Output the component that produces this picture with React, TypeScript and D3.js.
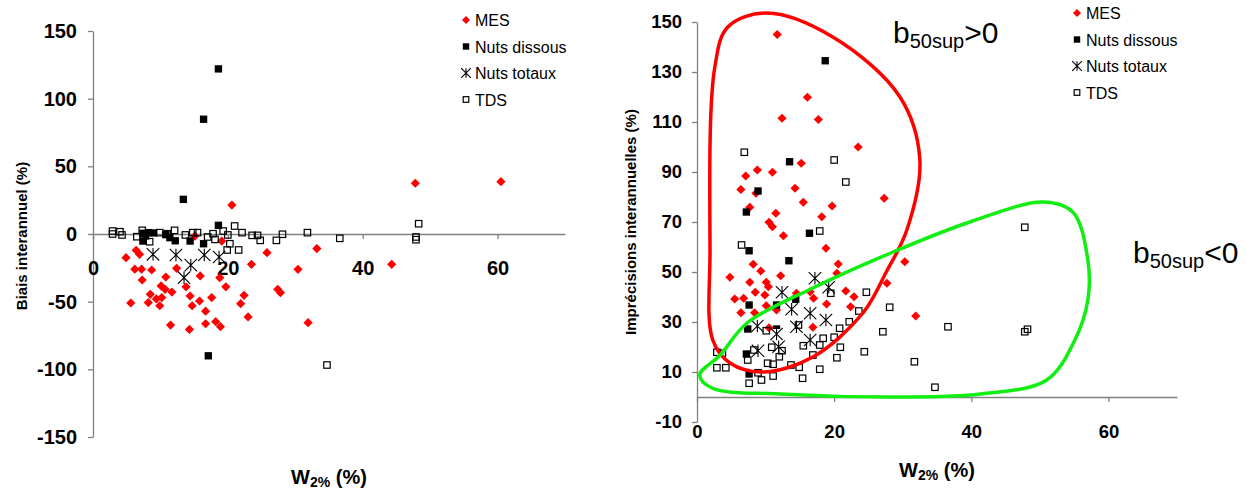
import { useEffect, useRef } from "react";
import * as d3 from "d3";

type Pt = [number, number];

// axis ticks
const wTicks = [0, 20, 40, 60];
const biasTicks = [-150, -100, -50, 0, 50, 100, 150];
const imprecTicks = [-10, 10, 30, 50, 70, 90, 110, 130, 150];
const seriesNames = ["MES", "Nuts dissous", "Nuts totaux", "TDS"];

// left panel : biais interannuel vs W2%
const biasMes: Pt[] = [
  [20.6, 21.4], [4.9, -17.5], [6.4, -12], [6.9, -15], [6.2, -26], [7.2, -26], [8.7, -26.6],
  [7.3, -34], [5.6, -51], [8.2, -50.7], [8.5, -44.6], [9.4, -48], [10.2, -47], [9.9, -53],
  [10.1, -38.4], [10.8, -31.8], [10.7, -40.9], [11.7, -42.9], [11.5, -67.3], [14.3, -70.5],
  [14.4, -45.8], [14.7, -53], [15.8, -49.5], [16.7, -57], [16.7, -66.3], [17.6, -47],
  [18.2, -64.8], [18.9, -68.5], [18.8, -32.3], [19.7, -39], [19.1, -5.2], [21.9, -51.5],
  [22.4, -45.3], [23, -61.3], [23.5, -22.4], [25.8, -13.8], [27.4, -40.9], [27.8, -43.4],
  [30.4, -26.1], [31.9, -65.5], [33.2, -10.8], [12.4, -25.4], [15.9, -31], [13.8, -39],
  [15.1, -1.5], [47.8, 37.5], [60.5, 38.7], [44.3, -22.4],
];
const biasNutsDissous: Pt[] = [
  [18.6, 122], [16.4, 84.8], [13.4, 25.6], [18.6, 6.4], [7.4, 0.5], [8.2, 1], [9, 0.8],
  [7.8, -1.5], [7.4, -5.2], [10.8, -0.5], [11.4, -2.7], [12.2, -5], [14.4, -5.2],
  [16.4, -7.2], [17.1, -90],
];
const biasNutsTotaux: Pt[] = [
  [8.9, -15], [12.3, -15.5], [14.5, -23], [16.5, -15.5], [18.7, -17], [13.5, -32.3],
];
const biasTds: Pt[] = [
  [2.9, 2.2], [2.9, 0], [4, 1.7], [4.3, -0.7], [6.5, -2], [7.3, 2.7], [8.4, -5.7], [9.9, 1],
  [11, 0.2], [12.1, 2.7], [13.7, -0.7], [14.8, 1], [15.5, 1], [17, -2.2], [17.8, 0.2],
  [18.1, -4], [19.3, 2.2], [20, -0.7], [21, 5.9], [20.3, -7.2], [19.9, -11.8], [21.6, -11.8],
  [22.1, 1], [23.6, -1], [24.4, -1], [24.8, -4.7], [27.2, -4.7], [28.1, -0.2], [31.8, 1],
  [36.6, -3.2], [48.3, 7.6], [47.9, -2.2], [47.9, -4.2], [34.7, -96.8],
];

// right panel : imprecisions interannuelles vs W2%
const impMes: Pt[] = [
  [11.7, 145], [16.1, 119.9], [12.4, 111.5], [17.7, 111], [23.5, 100], [15.2, 93.5],
  [8.8, 90.8], [7.1, 88.4], [11, 89.9], [6.4, 83], [8.6, 81.5], [14.3, 83.5], [15.5, 77.9],
  [27.3, 79.5], [19.7, 76.4], [7.7, 75.9], [11.5, 73.5], [18.2, 72.1], [10.5, 69.9],
  [11, 68.1], [12.6, 64.5], [18.8, 59.5], [8.2, 53.1], [9.3, 50.4], [4.8, 47.9], [12.2, 48.5],
  [20.6, 53.2], [20.4, 49.5], [7.7, 45.9], [10.1, 45.9], [10.4, 44.1], [8.5, 41.9],
  [5.5, 39.2], [6.8, 39.5], [9.9, 40.8], [10.1, 36.5], [6.4, 33.7], [8.4, 33.7], [14.5, 41.5],
  [16.5, 42.1], [17, 39.5], [21.7, 42.4], [22.9, 40.1], [22.4, 36.1], [18.9, 37.2],
  [27.7, 45.5], [30.3, 54.1], [31.9, 32.4], [16.9, 27.9], [11.6, 34.8], [10.5, 27.7],
];
const impNutsDissous: Pt[] = [
  [18.7, 134.5], [13.5, 94.1], [8.9, 82.4], [7.2, 74], [16.4, 65.5], [7.6, 58.5], [13.4, 54.5],
  [7.6, 36.8], [11.6, 36.8], [14.4, 39.1], [7.4, 27.2], [11.6, 27.2], [7.2, 17.2], [7.6, 9.2],
];
const impNutsTotaux: Pt[] = [
  [17.2, 47.5], [12.4, 41.9], [19.2, 43.9], [13.8, 35.1], [16.5, 33.5], [18.8, 30.8],
  [14.5, 28.1], [11.6, 25.2], [8.8, 28.4], [16.5, 22.8], [11.9, 20.1], [8.9, 18.5],
];
const impTds: Pt[] = [
  [6.9, 97.9], [20, 94.8], [21.7, 86], [17.9, 66.4], [6.5, 60.8], [24.7, 41.9], [19.5, 41.5],
  [28.1, 35.9], [23.6, 34.4], [22.2, 30.1], [20.8, 27.5], [27.1, 26.1], [20, 23.9],
  [18.4, 23.5], [17.9, 20.8], [20.9, 19.9], [24.4, 18.1], [20.4, 15.7], [16.9, 16.8],
  [15.5, 20.5], [14.8, 28.8], [12.4, 18.5], [10.9, 19.9], [12, 16.1], [10.1, 26.5],
  [7.4, 14.8], [8.3, 18.8], [10.3, 13.5], [11.1, 13.1], [13.7, 12.8], [14.9, 11.9],
  [17.9, 11.1], [15.4, 7.5], [11.1, 8.4], [9.4, 6.8], [8.9, 9.7], [7.6, 5.5], [2.9, 17.9],
  [3.7, 17.5], [2.9, 11.7], [4.2, 11.7], [31.7, 14.1], [34.7, 3.9], [47.8, 67.9],
  [36.6, 28.1], [47.8, 26.1], [48.2, 27.1],
];

// hand drawn outlines (data units of the right panel)
const loopPositive: Pt[] = [
  [10.2, 153.6], [19.8, 144], [29.6, 120], [32.5, 94.8], [30.6, 66.8], [27.6, 50],
  [24.2, 33.6], [16.9, 16], [9.6, 10], [4.8, 13.6], [2.3, 22.8], [1.9, 58.8], [2.6, 132],
  [4.5, 148],
];
const loopNegative: Pt[] = [
  [50.5, 78], [54.8, 74], [57, 54.8], [57, 38.8], [55.1, 22.8], [51, 6.8], [41.3, 1.2],
  [29.6, 0], [12.1, 1.2], [2.2, 3.6], [0.4, 8.8], [3.4, 16.8], [7.3, 29.6], [16.9, 43.6],
  [28.6, 58], [39.8, 70],
];

const FONT = "'Liberation Sans', Arial, sans-serif";
const AXIS_COL = "#808080";

function drawMarker(g: any, kind: string, s: number) {
  if (kind === "MES") {
    g.append("path").attr("d", `M0,${-s}L${s},0L0,${s}L${-s},0Z`).attr("fill", "#ff0000");
  } else if (kind === "Nuts dissous") {
    const h = s * 0.8;
    g.append("rect").attr("x", -h).attr("y", -h).attr("width", 2 * h).attr("height", 2 * h)
      .attr("fill", "#000");
  } else if (kind === "Nuts totaux") {
    const h = s * 1.35;
    g.append("path")
      .attr("d", `M0,${-h}V${h}M${-h},${-h}L${h},${h}M${-h},${h}L${h},${-h}`)
      .attr("stroke", "#000").attr("stroke-width", 1.1).attr("fill", "none");
  } else {
    const h = s * 0.7;
    g.append("rect").attr("x", -h).attr("y", -h).attr("width", 2 * h).attr("height", 2 * h)
      .attr("fill", "none").attr("stroke", "#000").attr("stroke-width", 1.2);
  }
}

function panel(svg: any, o: any) {
  const x = d3.scaleLinear().domain([0, 70]).range(o.xRange);
  const y = d3.scaleLinear().domain(o.yDomain).range(o.yRange);
  const plain = (d: any) => String(d); // hyphen minus like the original

  // y axis
  const ya = svg.append("g").attr("transform", `translate(${o.xRange[0]},0)`)
    .call(d3.axisLeft(y).tickValues(o.yTicks).tickFormat(plain).tickSize(5).tickSizeOuter(0)
      .tickPadding(o.yPad));
  // x axis along y = 0
  const xa = svg.append("g").attr("transform", `translate(0,${y(0)})`)
    .call(d3.axisBottom(x).tickValues(wTicks).tickFormat(plain).tickSize(5).tickSizeOuter(0)
      .tickPadding(o.xPad));
  [ya, xa].forEach((a) => {
    a.select(".domain").attr("stroke", AXIS_COL).attr("stroke-width", 1.3);
    a.selectAll(".tick line").attr("stroke", AXIS_COL).attr("stroke-width", 1.3);
    a.selectAll(".tick text").attr("fill", "#000").attr("font-family", FONT)
      .attr("font-weight", "bold").attr("font-size", o.tickFont);
  });

  // series
  const sets = [o.mes, o.dissous, o.totaux, o.tds];
  sets.forEach((pts: Pt[], i: number) => {
    const kind = seriesNames[i];
    const layer = svg.append("g");
    pts.forEach((p) => {
      const g = layer.append("g").attr("transform", `translate(${x(p[0])},${y(p[1])})`);
      if (kind === "Nuts totaux") {
        g.append("rect").attr("x", -5).attr("y", -5).attr("width", 10).attr("height", 10)
          .attr("fill", "#fff");
      }
      drawMarker(g, kind, 4.6);
    });
  });

  // axis titles
  svg.append("text")
    .attr("transform", `translate(${o.yTitleX},${o.yTitleY}) rotate(-90)`)
    .attr("text-anchor", "middle").attr("font-family", FONT).attr("font-weight", "bold")
    .attr("font-size", 15).text(o.yTitle);
  const xt = svg.append("text").attr("x", (o.xRange[0] + o.xRange[1]) / 2).attr("y", o.xTitleY)
    .attr("text-anchor", "middle").attr("font-family", FONT).attr("font-weight", "bold")
    .attr("font-size", 20);
  xt.append("tspan").text("W");
  xt.append("tspan").attr("font-size", 14).attr("dy", 3).text("2%");
  xt.append("tspan").attr("dy", -3).text(" (%)");

  // legend
  seriesNames.forEach((name, i) => {
    const cy = o.legendY + i * 26.5;
    const g = svg.append("g").attr("transform", `translate(${o.legendX},${cy})`);
    drawMarker(g, name, name === "Nuts totaux" ? 3.6 : 4);
    svg.append("text").attr("x", o.legendX + 9).attr("y", cy + 6)
      .attr("font-family", FONT).attr("font-size", 16).text(name);
  });

  return { x, y };
}

function annotation(svg: any, px: number, py: number, sign: string) {
  const t = svg.append("text").attr("x", px).attr("y", py).attr("font-family", FONT)
    .attr("font-size", 30);
  t.append("tspan").text("b");
  t.append("tspan").attr("font-size", 20).attr("dy", 5).text("50sup");
  t.append("tspan").attr("dy", -5).text(sign + "0");
}

export default function App() {
  const ref = useRef<SVGSVGElement | null>(null);

  useEffect(() => {
    document.body.style.margin = "0";
    const svg = d3.select(ref.current);
    svg.selectAll("*").remove();
    svg.append("rect").attr("width", 1260).attr("height", 490).attr("fill", "#fff");

    panel(svg, {
      xRange: [93, 565], yDomain: [-150, 150], yRange: [437, 31], yTicks: biasTicks,
      yPad: 11, xPad: 22, tickFont: 20,
      mes: biasMes, dissous: biasNutsDissous, totaux: biasNutsTotaux, tds: biasTds,
      yTitle: "Biais interannuel (%)", yTitleX: 27, yTitleY: 236, xTitleY: 484,
      legendX: 466, legendY: 20,
    });

    const r = panel(svg, {
      xRange: [697, 1177], yDomain: [-10, 150], yRange: [422, 22], yTicks: imprecTicks,
      yPad: 10, xPad: 23, tickFont: 18.5,
      mes: impMes, dissous: impNutsDissous, totaux: impNutsTotaux, tds: impTds,
      yTitle: "Imprécisions interannuelles (%)", yTitleX: 636, yTitleY: 222, xTitleY: 477,
      legendX: 1077, legendY: 13,
    });

    const loop = d3.line<Pt>().x((d) => r.x(d[0])).y((d) => r.y(d[1]))
      .curve(d3.curveCatmullRomClosed.alpha(0.5));
    svg.append("path").attr("d", loop(loopPositive)).attr("fill", "none")
      .attr("stroke", "#ff0000").attr("stroke-width", 3.5);
    svg.append("path").attr("d", loop(loopNegative)).attr("fill", "none")
      .attr("stroke", "#11ee11").attr("stroke-width", 3.5);

    annotation(svg, 893, 43, ">");
    annotation(svg, 1133, 263, "<");
  }, []);

  return <svg ref={ref} width={1260} height={490} style={{ display: "block" }} />;
}
